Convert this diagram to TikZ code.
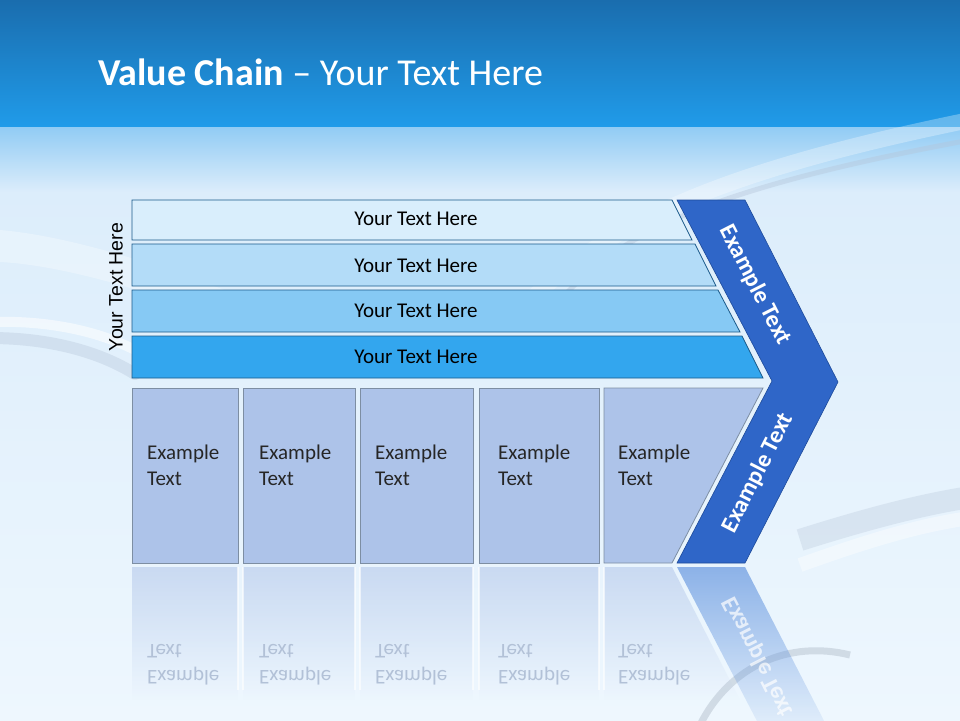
\documentclass[tikz,border=0pt]{standalone}
\usepackage{fontspec}
\setmainfont{Carlito}
\newfontfamily\arialf{Liberation Sans}
\usetikzlibrary{fadings}
\definecolor{hdtop}{HTML}{1A6DAE}
\definecolor{hdbot}{HTML}{209BE9}
\definecolor{bgA}{HTML}{8ECAF4}
\definecolor{bgB}{HTML}{DCEDFB}
\definecolor{bgC}{HTML}{EEF7FE}
\definecolor{barline}{HTML}{1B5A8A}
\definecolor{barA}{HTML}{D9EEFC}
\definecolor{barB}{HTML}{B3DCF8}
\definecolor{barC}{HTML}{86C9F4}
\definecolor{barD}{HTML}{33A6EE}
\definecolor{boxfill}{HTML}{ADC3E9}
\definecolor{boxline}{HTML}{7D8EA3}
\definecolor{chevfill}{HTML}{2F66C8}
\definecolor{chevline}{HTML}{1D4A9A}
\definecolor{reflbox}{HTML}{B9CCEC}
\definecolor{reflchev}{HTML}{5B8FDD}
\definecolor{refltext}{HTML}{B2C1D7}
\definecolor{swirl}{HTML}{B4C4D8}
\tikzfading[name=reflfade, top color=transparent!35, bottom color=transparent!100]
\begin{document}
\begin{tikzpicture}[x=1pt,y=-1pt,
  barshape/.style={draw=barline, line width=0.8pt},
  boxshape/.style={fill=boxfill, draw=boxline, line width=0.8pt},
  chevshape/.style={fill=chevfill, draw=chevline, line width=0.6pt},
  bartext/.style={font=\fontsize{21}{25}\selectfont, text=black, inner sep=0pt},
  boxtext/.style={font=\fontsize{21}{26}\selectfont, text=black!85, align=left, anchor=west, inner sep=0pt},
  chevtext/.style={font=\bfseries\fontsize{24}{28}\selectfont, text=white, inner sep=0pt},
  refltxt/.style={font=\fontsize{21}{26}\selectfont, text=refltext, align=left, anchor=west, inner sep=0pt}]
\useasboundingbox (0,0) rectangle (960,720);
% background
\shade[top color=bgB, bottom color=bgC] (0,190) rectangle (960,720);
\shade[top color=bgA, bottom color=bgB] (0,124) rectangle (960,192);
\shade[top color=hdtop, bottom color=hdbot] (0,0) rectangle (960,126);
% soft swirls
\draw[swirl, line width=12pt, opacity=0.35, line cap=round] (-10,338) .. controls (50,338) and (100,352) .. (135,374);
\draw[white, line width=10pt, opacity=0.55] (-10,322) .. controls (50,320) and (100,332) .. (135,350);
\draw[swirl, line width=5pt, opacity=0.4] (560,300) .. controls (620,235) and (700,190) .. (970,140);
\draw[white, line width=16pt, opacity=0.3] (520,310) .. controls (600,230) and (700,175) .. (970,120);
\draw[swirl, line width=22pt, opacity=0.3] (800,540) .. controls (870,518) and (920,505) .. (970,497);
\draw[white, line width=14pt, opacity=0.4] (800,565) .. controls (870,540) and (920,525) .. (970,518);
\draw[swirl!80!black, line width=7pt, opacity=0.3] (700,725) .. controls (730,665) and (790,640) .. (850,655);
\fill[white, opacity=0.3] (0,230) .. controls (60,235) and (150,260) .. (250,300) -- (250,330) .. controls (150,290) and (60,265) .. (0,262) -- cycle;
% title
\node[anchor=base west, inner sep=0pt, text=white, font=\fontsize{38}{41}\selectfont] (title) at (98,85) {\textbf{Value Chain} – Your Text Here};
% bars
\path[barshape, fill=barA] (132,200) -- (672,200) -- (692,240) -- (132,240) -- cycle;
\path[barshape, fill=barB] (132,244) -- (695,244) -- (716,286) -- (132,286) -- cycle;
\path[barshape, fill=barC] (132,290) -- (718,290) -- (740,332) -- (132,332) -- cycle;
\path[barshape, fill=barD] (132,336) -- (742,336) -- (763,378) -- (132,378) -- cycle;
\node[bartext] (bt1) at (416,219) {Your Text Here};
\node[bartext] (bt2) at (416,266) {Your Text Here};
\node[bartext] (bt3) at (416,311) {Your Text Here};
\node[bartext] (bt4) at (416,357) {Your Text Here};
% left vertical label
\node[rotate=90, inner sep=0pt, text=black, font=\arialf\fontsize{19.5}{22}\selectfont] (side) at (116,287) {Your Text Here};
% reflections
\path[fill=reflbox, path fading=reflfade] (132,567) rectangle (238,700);
\path[fill=reflbox, path fading=reflfade] (243,567) rectangle (355,700);
\path[fill=reflbox, path fading=reflfade] (360,567) rectangle (473,700);
\path[fill=reflbox, path fading=reflfade] (479,567) rectangle (599,700);
\path[fill=reflbox, path fading=reflfade] (604,567) -- (672,567) -- (740,700) -- (604,700) -- cycle;
\path[fill=reflchev, path fading=reflfade] (677,567) -- (745,567) -- (838,748) -- (772,750) -- cycle;
\draw[white, opacity=0.6, line width=1.2pt] (238,567) -- (238,690) (243,567) -- (243,690) (355,567) -- (355,690) (360,567) -- (360,690) (473,567) -- (473,690) (479,567) -- (479,690) (599,567) -- (599,690) (604,567) -- (604,690);
\begin{scope}[shift={(0,1130)}, yscale=-1, transform shape]
  \node[refltxt] (r1) at (147,465) {Example\\Text};
  \node[refltxt] (r2) at (259,465) {Example\\Text};
  \node[refltxt] (r3) at (375,465) {Example\\Text};
  \node[refltxt] (r4) at (498,465) {Example\\Text};
  \node[refltxt] (r5) at (618,465) {Example\\Text};
  \node[chevtext, rotate=63, opacity=0.7] (rc) at (758,473) {Example Text};
\end{scope}
% bottom boxes
\path[boxshape] (132,388) rectangle (238,563);
\path[boxshape] (243,388) rectangle (355,563);
\path[boxshape] (360,388) rectangle (473,563);
\path[boxshape] (479,388) rectangle (599,563);
\path[boxshape] (604,388) -- (763,388) -- (672,563) -- (604,563) -- cycle;
\node[boxtext] (x1) at (147,465) {Example\\Text};
\node[boxtext] (x2) at (259,465) {Example\\Text};
\node[boxtext] (x3) at (375,465) {Example\\Text};
\node[boxtext] (x4) at (498,465) {Example\\Text};
\node[boxtext] (x5) at (618,465) {Example\\Text};
% chevron
\path[chevshape] (677,200) -- (745,200) -- (838,382) -- (745,563) -- (677,563) -- (772,381) -- cycle;
\node[chevtext, rotate=-63] (c1) at (755,285) {Example Text};
\node[chevtext, rotate=63] (c2) at (758,473) {Example Text};
\end{tikzpicture}
\end{document}
